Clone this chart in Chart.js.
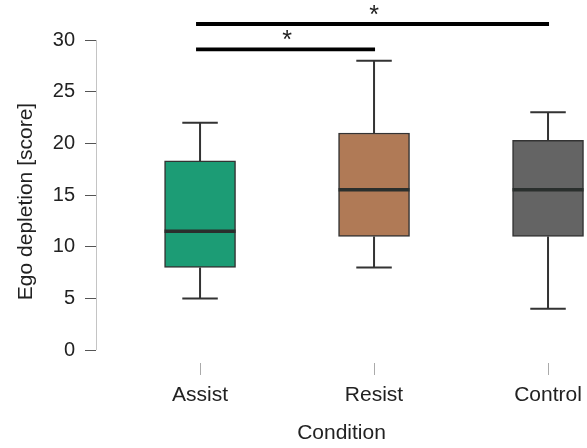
<!DOCTYPE html>
<html>
<head>
<meta charset="utf-8">
<script src="https://cdn.jsdelivr.net/npm/chart.js@4.4.1/dist/chart.umd.min.js"></script>
<style>
  html, body { margin: 0; padding: 0; background: #fff; }
  #wrap { position: relative; width: 587px; height: 448px; }
</style>
</head>
<body>
<div id="wrap"><canvas id="chart"></canvas></div>
<script>
// values
var categories = ['Assist', 'Resist', 'Control'];
var whiskerLow = [5, 8, 4];
var q1 = [8, 11, 11];
var median = [11.5, 15.5, 15.5];
var q3 = [18.3, 21, 20.3];
var whiskerHigh = [22, 28, 23];
var boxColors = ['#1c9c75', '#b07a56', '#646464'];
var yTicks = [0, 5, 10, 15, 20, 25, 30];

// significance brackets: from category, to category, height (score)
var sigFrom = [0, 0];
var sigTo = [1, 2];
var sigLevel = [29.1, 31.55];
var sigLabel = ['*', '*'];

var FONT = "'Liberation Sans', Arial, Helvetica, sans-serif";
var INK = '#222';

var boxData = categories.map(function(c, i) {
    return { x: i, y: [q1[i], q3[i]] };
});

var boxPlot = {
    id: 'boxPlot',
    beforeDatasetsDraw: function(chart) {
        var ctx = chart.ctx;
        var y = chart.scales.y;
        var bars = chart.getDatasetMeta(0).data;
        ctx.save();
        ctx.strokeStyle = '#333';
        ctx.lineWidth = 2;
        bars.forEach(function(bar, i) {
            var cx = bar.x;
            var half = bar.width / 4;
            var top = y.getPixelForValue(whiskerHigh[i]);
            var bot = y.getPixelForValue(whiskerLow[i]);
            ctx.beginPath();
            ctx.moveTo(cx, y.getPixelForValue(q3[i]));
            ctx.lineTo(cx, top);
            ctx.moveTo(cx - half, top);
            ctx.lineTo(cx + half, top);
            ctx.moveTo(cx, y.getPixelForValue(q1[i]));
            ctx.lineTo(cx, bot);
            ctx.moveTo(cx - half, bot);
            ctx.lineTo(cx + half, bot);
            ctx.stroke();
        });
        ctx.restore();
    },
    afterDatasetsDraw: function(chart) {
        var ctx = chart.ctx;
        var x = chart.scales.x;
        var y = chart.scales.y;
        var bars = chart.getDatasetMeta(0).data;
        ctx.save();

        // medians
        ctx.strokeStyle = '#2a2f2d';
        ctx.lineWidth = 3.5;
        bars.forEach(function(bar, i) {
            var my = y.getPixelForValue(median[i]);
            ctx.beginPath();
            ctx.moveTo(bar.x - bar.width / 2, my);
            ctx.lineTo(bar.x + bar.width / 2, my);
            ctx.stroke();
        });

        // y axis line, only over the tick range
        ctx.strokeStyle = '#c4c4c4';
        ctx.lineWidth = 1;
        ctx.beginPath();
        ctx.moveTo(y.right + 0.5, y.getPixelForValue(yTicks[0]));
        ctx.lineTo(y.right + 0.5, y.getPixelForValue(yTicks[yTicks.length - 1]));
        ctx.stroke();

        // significance brackets
        ctx.strokeStyle = '#000';
        ctx.lineWidth = 3.8;
        ctx.fillStyle = '#222';
        ctx.font = '25px ' + FONT;
        ctx.textAlign = 'center';
        ctx.textBaseline = 'middle';
        sigLevel.forEach(function(lv, k) {
            var x1 = x.getPixelForValue(sigFrom[k]);
            var x2 = x.getPixelForValue(sigTo[k]);
            var ly = y.getPixelForValue(lv);
            ctx.beginPath();
            ctx.moveTo(x1 - 4, ly);
            ctx.lineTo(x2 + 1, ly);
            ctx.stroke();
            ctx.fillText(sigLabel[k], (x1 + x2) / 2, ly - 8);
        });
        ctx.restore();
    }
};

var chart = new Chart(document.getElementById('chart'), {
    type: 'bar',
    data: {
        datasets: [
            {
                data: boxData,
                backgroundColor: boxColors,
                borderColor: '#333',
                borderWidth: 1.5,
                borderSkipped: false,
                barThickness: 71,
            },
        ],
    },
    options: {
        responsive: true,
        maintainAspectRatio: false,
        animation: false,
        layout: { padding: { top: 40, right: 0, bottom: 0, left: 0 } },
        plugins: {
            legend: { display: false },
            tooltip: { enabled: false },
        },
        scales: {
            x: {
                type: 'linear',
                offset: false,
                min: -0.598,
                max: 2.224,
                grid: { offset: false, drawOnChartArea: false, tickLength: 12, color: '#aaa' },
                border: { display: false },
                ticks: {
                    autoSkip: false,
                    maxRotation: 0,
                    padding: 8,
                    color: INK,
                    font: { family: FONT, size: 21 },
                    callback: function(v) {
                        return categories[v];
                    },
                },
                afterBuildTicks: function(scale) {
                    scale.ticks = categories.map(function(c, i) {
                        return { value: i };
                    });
                },
                afterFit: function(scale) {
                    scale.height = 85;
                    scale.paddingLeft = 0;
                    scale.paddingRight = 0;
                },
                title: {
                    display: true,
                    text: 'Condition',
                    color: INK,
                    font: { family: FONT, size: 21 },
                    padding: { top: 8, bottom: 2 },
                },
            },
            y: {
                min: -1.25,
                max: 30,
                grid: { drawOnChartArea: false, tickLength: 11, color: '#555' },
                border: { display: false },
                ticks: {
                    padding: 10,
                    color: INK,
                    font: { family: FONT, size: 20 },
                },
                afterBuildTicks: function(scale) {
                    scale.ticks = yTicks.map(function(v) {
                        return { value: v };
                    });
                },
                afterFit: function(scale) {
                    scale.width = 96;
                },
                title: {
                    display: true,
                    text: 'Ego depletion [score]',
                    color: INK,
                    font: { family: FONT, size: 21 },
                    padding: { top: 14, bottom: 0 },
                },
            },
        },
    },
    plugins: [boxPlot],
});
</script>
</body>
</html>
